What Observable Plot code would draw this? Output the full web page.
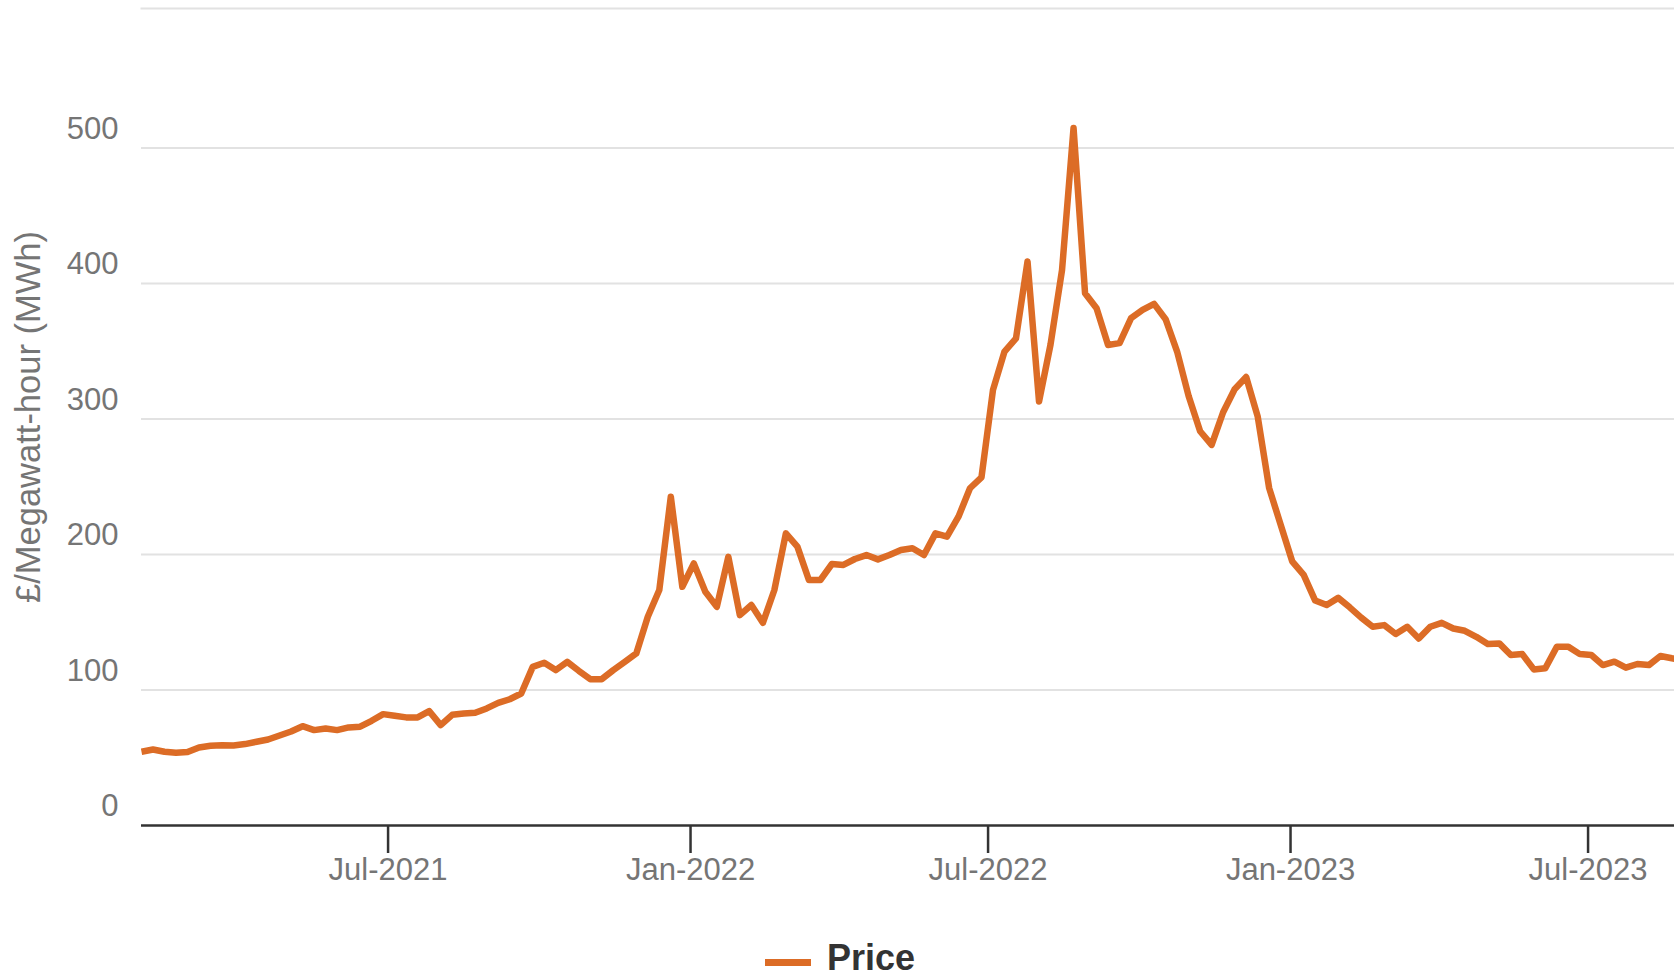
<!DOCTYPE html>
<html>
<head>
<meta charset="utf-8">
<script src="https://cdn.jsdelivr.net/npm/d3@7"></script>
<script src="https://cdn.jsdelivr.net/npm/@observablehq/plot@0.6"></script>
<style>
  html, body { margin: 0; padding: 0; background: #fff; }
  #wrap { position: relative; width: 1674px; height: 980px; overflow: hidden; font-family: "Liberation Sans", Arial, sans-serif; }
  #legend { position: absolute; top: 940px; left: 0; width: 1674px; height: 38px; }
  #legend .sw { position: absolute; left: 765px; top: 19px; width: 46px; height: 7px; background: #dc6c26; }
  #legend .lb { position: absolute; left: 827px; top: 0; font: bold 36px "Liberation Sans", Arial, sans-serif; color: #333; line-height: 36px; }
</style>
</head>
<body>
<div id="wrap">
  <div id="chart"></div>
  <div id="legend"><span class="sw"></span><span class="lb">Price</span></div>
</div>
<script>
// Weekly series (Mondays), starting 1 Feb 2021
const startWeek = "2021-02-01";
const priceValues = [
  54.4, 56.1, 54.4, 53.7, 54.2, 57.6, 58.8, 59.3, 59.1, 60.1,
  61.8, 63.5, 66.4, 69.4, 73.3, 70.4, 71.6, 70.4, 72.4, 72.9,
  77.3, 82.2, 81.0, 79.8, 79.8, 84.4, 74.1, 81.7, 82.7, 83.2,
  86.4, 90.5, 93.2, 97.4, 117.1, 120.1, 114.7, 120.8, 114.2, 108.0,
  108.0, 114.7, 120.8, 127.0, 154.1, 173.8, 242.7, 176.2, 193.4, 172.5,
  161.4, 198.3, 155.3, 162.7, 149.6, 173.8, 215.6, 205.8, 181.2, 181.2,
  193.0, 192.3, 196.7, 199.6, 196.4, 199.6, 203.3, 204.6, 199.6, 215.6,
  213.2, 227.9, 248.9, 257.0, 321.5, 349.8, 359.6, 416.3, 312.9, 355.0,
  410.0, 514.8, 392.9, 381.8, 354.7, 356.0, 374.4, 380.6, 385.0, 373.7,
  349.8, 317.0, 291.0, 280.9, 305.0, 322.0, 331.0, 302.0, 249.0, 222.0,
  195.0, 185.0, 166.0, 162.7, 168.0, 161.0, 153.4, 146.7, 147.9, 141.3,
  146.7, 138.0, 146.7, 149.6, 145.4, 143.7, 139.3, 133.9, 134.4, 125.8,
  126.5, 115.2, 116.0, 132.0, 132.0, 126.5, 125.8, 118.4, 120.9, 116.5,
  119.2, 118.4, 125.1, 123.4, 122.0
];
const xTickDates = ["2021-07-01", "2022-01-01", "2022-07-01", "2023-01-01", "2023-07-01"];
const yTicks = [0, 100, 200, 300, 400, 500];
const yGridTicks = [100, 200, 300, 400, 500];
const yTitle = "£/Megawatt-hour (MWh)";
const seriesName = "Price";

const weeks = d3.utcMonday.range(new Date(startWeek), new Date("2023-09-05"));
const data = priceValues.map((v, i) => ({date: weeks[i], price: v}));

const gray = "#757575";
const font = "Liberation Sans, Arial, sans-serif";

const chart = Plot.plot({
  width: 1674,
  height: 910,
  marginLeft: 141,
  marginRight: 0,
  marginTop: 8,
  marginBottom: 85,
  style: {fontFamily: font, background: "#fff", overflow: "visible"},
  x: {type: "utc", domain: [new Date("2021-02-01"), new Date(Date.UTC(2023, 7, 22, 14))]},
  y: {domain: [0, 603]},
  marks: [
    Plot.ruleY(yGridTicks, {stroke: "#e2e2e2", strokeWidth: 2}),
    Plot.frame({anchor: "top", stroke: "#e2e2e2", strokeWidth: 2}),
    Plot.line(data, {x: "date", y: "price", stroke: "#dc6c26", strokeWidth: 6.5, strokeLinejoin: "round", strokeLinecap: "butt", clip: true}),
    Plot.ruleY([0], {stroke: "#333", strokeWidth: 2.5}),
    Plot.axisX(xTickDates.map(d => new Date(d)), {
      tickSize: 28, tickPadding: 4, stroke: "#333", strokeWidth: 2.5,
      tickFormat: d3.utcFormat("%b-%Y"), fontSize: 31, fill: gray, label: null
    }),
    Plot.axisY(yTicks, {
      tickSize: 0, tickPadding: 23, dy: -19, fontSize: 31, fill: gray, label: null
    }),
    Plot.text([yTitle], {frameAnchor: "left", textAnchor: "middle", rotate: -90, dx: -113, fontSize: 34.5, fill: gray})
  ]
});
document.getElementById("chart").appendChild(chart);
</script>
</body>
</html>
